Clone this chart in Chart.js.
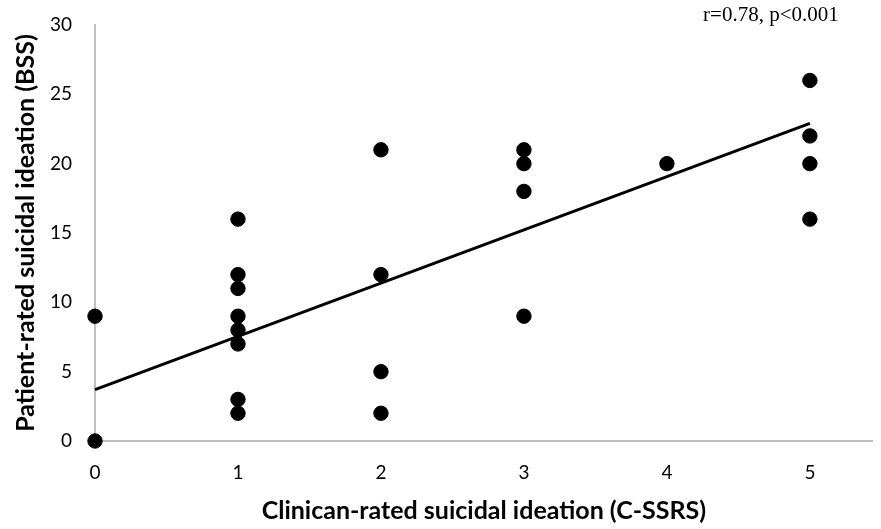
<!DOCTYPE html>
<html>
<head>
<meta charset="utf-8">
<script src="https://cdn.jsdelivr.net/npm/chart.js@4/dist/chart.umd.min.js"></script>
<style>
html,body{margin:0;padding:0;background:#fff;}
#wrap{width:881px;height:529px;position:relative;}
</style>
</head>
<body>
<div id="wrap"><canvas id="c"></canvas></div>
<script>
// Data
const clinicianScores = [0,0, 1,1,1,1,1,1,1,1, 2,2,2,2, 3,3,3,3, 4, 5,5,5,5];
const patientScores   = [0,9, 16,12,11,9,8,7,3,2, 21,12,5,2, 21,20,18,9, 20, 26,22,20,16];
const trendX = [0, 5];
const trendY = [3.7, 22.9];
const xTicks = [0,1,2,3,4,5];
const yTicks = [0,5,10,15,20,25,30];
const annotation = 'r=0.78, p<0.001';
const xTitle = 'Clinican-rated suicidal ideation (C-SSRS)';
const yTitle = 'Patient-rated suicidal ideation (BSS)';

const points = clinicianScores.map((x,i)=>({x:x, y:patientScores[i]}));
const trend = trendX.map((x,i)=>({x:x, y:trendY[i]}));

const annotationPlugin = {
  id: 'annot',
  afterDraw(chart) {
    const ctx = chart.ctx;
    ctx.save();
    ctx.font = '21px "Liberation Serif"';
    ctx.fillStyle = '#000';
    ctx.textAlign = 'right';
    ctx.textBaseline = 'middle';
    ctx.fillText(annotation, chart.chartArea.right - 34, 15);
    ctx.restore();
  }
};

function zeroPad(s) {
  s.paddingLeft = 0; s.paddingRight = 0; s.paddingTop = 0; s.paddingBottom = 0;
}

new Chart(document.getElementById('c'), {
  type: 'scatter',
  data: {
    datasets: [
      {
        type: 'line',
        data: trend,
        borderColor: '#000',
        borderWidth: 3,
        pointRadius: 0,
        fill: false,
        clip: false,
        order: 2
      },
      {
        data: points,
        backgroundColor: '#000',
        borderColor: '#000',
        pointRadius: 7.2,
        pointHoverRadius: 7.2,
        clip: false,
        order: 1
      }
    ]
  },
  options: {
    responsive: true,
    maintainAspectRatio: false,
    animation: false,
    layout: { padding: { left: 0, right: 2, top: 25, bottom: 0 } },
    plugins: {
      legend: { display: false },
      tooltip: { enabled: false },
      title: { display: false }
    },
    scales: {
      x: {
        type: 'linear',
        min: 0,
        max: 5.44,
        afterBuildTicks: (s) => { s.ticks = xTicks.map(v=>({value:v})); },
        afterFit: (s) => { s.height = 88; zeroPad(s); },
        grid: { display: false, drawTicks: false },
        border: { display: true, color: '#bfbfbf', width: 2 },
        ticks: { color: '#000', padding: 20, font: { family: 'Lato', size: 19 } },
        title: { display: true, text: xTitle, color: '#000', padding: { top: 12, bottom: 3 },
                 font: { family: 'Lato', size: 25, weight: 'bold' } }
      },
      y: {
        min: 0,
        max: 30,
        afterBuildTicks: (s) => { s.ticks = yTicks.map(v=>({value:v})); },
        afterFit: (s) => { s.width = 95; zeroPad(s); },
        grid: { display: false, drawTicks: false },
        border: { display: true, color: '#bfbfbf', width: 2 },
        ticks: { color: '#000', padding: 23, font: { family: 'Lato', size: 19 } },
        title: { display: true, text: yTitle, color: '#000', padding: { top: 11, bottom: 10 },
                 font: { family: 'Lato', size: 25, weight: 'bold' } }
      }
    }
  },
  plugins: [annotationPlugin]
});
</script>
</body>
</html>
